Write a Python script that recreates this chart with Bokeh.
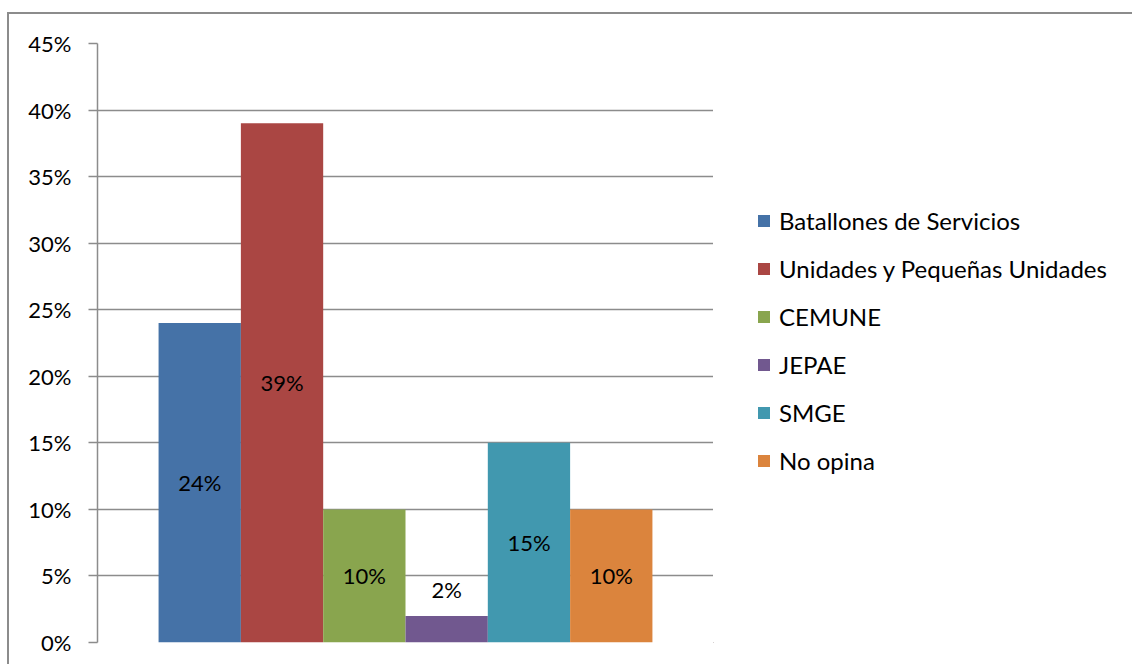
from bokeh.plotting import figure
from bokeh.layouts import row
from bokeh.models import (ColumnDataSource, Range1d, Legend, LegendItem,
                          NumeralTickFormatter, FixedTicker)
from bokeh.core.properties import value
from bokeh.embed import file_html
from bokeh.resources import INLINE

# Survey answers (percent of respondents)
series = ["Batallones de Servicios", "Unidades y Pequeñas Unidades", "CEMUNE",
          "JEPAE", "SMGE", "No opina"]
percent = [24, 39, 10, 2, 15, 10]
colors = ["#4572A7", "#AA4643", "#89A54E", "#71588F", "#4198AF", "#DB843D"]
y_ticks = [0, 5, 10, 15, 20, 25, 30, 35, 40, 45]

FONT = "Lato"
GRID = "#8c8c8c"
CHART_H = 650
PLOT_W = 704
LEGEND_W = 419

# label sits in the middle of a bar, or just above it when the bar is too short
label_y = [v / 2 if v >= 5 else v + 2 for v in percent]
src = ColumnDataSource(dict(
    x=list(range(len(series))),
    top=[v / 100 for v in percent],
    label_y=[v / 100 for v in label_y],
    label=[f"{v}%" for v in percent],
    color=colors,
))

p = figure(width=PLOT_W, height=CHART_H,
           output_backend="svg", toolbar_location=None,
           x_range=Range1d(-1.242, 6.242), y_range=Range1d(0, 0.45),
           min_border_left=88, min_border_right=0,
           min_border_top=29, min_border_bottom=22)
p.outline_line_color = None
p.background_fill_color = "white"
p.border_fill_color = "white"

p.vbar(x="x", top="top", width=1.0, bottom=0, source=src,
       fill_color="color", line_color=None)

p.text(x="x", y="label_y", text="label", source=src, text_align="center",
       text_baseline="middle", text_font=value(FONT), text_font_size="22px",
       text_color="black")

# axes
p.xaxis.visible = False
p.xgrid.visible = False
p.yaxis.ticker = FixedTicker(ticks=[t / 100 for t in y_ticks])
p.yaxis.formatter = NumeralTickFormatter(format="0%")
p.yaxis.axis_line_color = GRID
p.yaxis.axis_line_width = 1.5
p.yaxis.major_tick_line_color = GRID
p.yaxis.major_tick_line_width = 1.5
p.yaxis.major_tick_out = 9
p.yaxis.major_tick_in = 0
p.yaxis.minor_tick_line_color = None
p.yaxis.major_label_standoff = 17
p.yaxis.major_label_text_font = FONT
p.yaxis.major_label_text_font_size = "22px"
p.yaxis.major_label_text_color = "black"
p.ygrid.ticker = FixedTicker(ticks=[t / 100 for t in y_ticks])
p.ygrid.grid_line_color = GRID
p.ygrid.grid_line_width = 1.5

# legend panel to the right of the bars; its swatch renderer lies outside
# the visible ranges so only the legend itself shows
lf = figure(width=LEGEND_W, height=CHART_H, output_backend="svg",
            toolbar_location=None, x_range=Range1d(100, 101),
            y_range=Range1d(100, 101), min_border=0)
lf.outline_line_color = None
lf.axis.visible = False
lf.grid.visible = False
swatch = lf.vbar(x="x", top="top", width=1.0, bottom=0, source=src,
                 fill_color="color", line_color=None)

items = [LegendItem(label=name, renderers=[swatch], index=i)
         for i, name in enumerate(series)]
legend = Legend(items=items, location=(43, 167), margin=0, padding=0,
                border_line_color=None, background_fill_alpha=0,
                glyph_width=15, glyph_height=15, label_standoff=8,
                spacing=19, label_height=22,
                label_text_font=FONT, label_text_font_size="24px",
                label_text_color="black")
lf.add_layout(legend, "center")

# the whole chart sits in a box with a grey top and left border
layout = row(p, lf, spacing=0,
             styles={"margin-left": "7px", "margin-top": "12px",
                     "border-left": f"2px solid {GRID}",
                     "border-top": f"2px solid {GRID}"})

open("out.html", "w").write(file_html(layout, INLINE))
